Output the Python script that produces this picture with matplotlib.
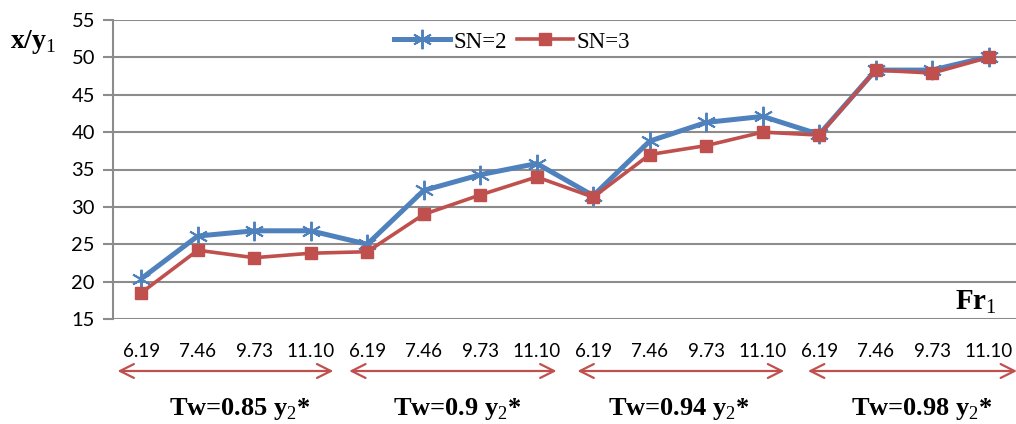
import numpy as np
import matplotlib
matplotlib.use('Agg')
import matplotlib.pyplot as plt
import matplotlib.transforms as mtransforms

# data
fr_labels = ['6.19', '7.46', '9.73', '11.10'] * 4
sn2 = [20.4, 26.1, 26.8, 26.8, 25.0, 32.2, 34.3, 35.8,
       31.5, 38.8, 41.3, 42.1, 39.7, 48.3, 48.3, 50.1]
sn3 = [18.5, 24.2, 23.2, 23.8, 24.0, 29.0, 31.6, 34.0,
       31.3, 37.0, 38.2, 40.0, 39.6, 48.3, 47.9, 50.0]
tw_labels = ['0.85', '0.9', '0.94', '0.98']
yticks = [15, 20, 25, 30, 35, 40, 45, 50, 55]

plt.rcParams['mathtext.fontset'] = 'custom'
plt.rcParams['mathtext.rm'] = 'Liberation Serif'
plt.rcParams['mathtext.bf'] = 'Liberation Serif:bold'

blue = '#4F81BD'
red = '#C0504D'
grid_c = '#8C8C8C'

fig = plt.figure(figsize=(10.16, 4.24), dpi=100)
ax = fig.add_axes([113 / 1016, 1 - 319 / 424, 904 / 1016, 299 / 424])

x = np.arange(len(sn2))
ax.plot(x, sn2, color=blue, lw=3.6, marker=(6, 2, 0), ms=14, mew=1.4,
        mec=blue, label='SN=2', zorder=3, clip_on=False)
ax.plot(x, sn3, color=red, lw=2.6, marker='s', ms=8.5, mec=red, mfc=red,
        label='SN=3', zorder=4, clip_on=False)

ax.set_xlim(-0.5, len(sn2) - 0.5)
ax.set_ylim(15, 55)
ax.set_yticks(yticks)
ax.yaxis.grid(True, color=grid_c, lw=1.5)
ax.set_axisbelow(True)
for s in ['top', 'right', 'bottom']:
    ax.spines[s].set_visible(False)
ax.spines['left'].set_color(grid_c)
ax.spines['left'].set_linewidth(1.5)
ax.tick_params(axis='y', length=7, width=1.5, color=grid_c, pad=6,
               labelsize=14.5)
for t in ax.get_yticklabels():
    t.set_family('Lato')
ax.set_xticks(x)
ax.set_xticklabels(fr_labels, fontsize=13.5, family='Lato')
ax.tick_params(axis='x', length=0, pad=17)

leg = ax.legend(loc='center', ncol=2, frameon=False,
                prop={'family': 'Liberation Serif', 'size': 16.5},
                handlelength=2.45, handletextpad=0.15, columnspacing=0.4,
                borderpad=0)
leg.set_bbox_to_anchor((512 / 1016, 1 - 42 / 424), transform=fig.transFigure)

# group arrows and labels under the axis
trans = mtransforms.blended_transform_factory(ax.transData, fig.transFigure)
spans = [(-0.42, 3.4), (3.68, 7.35), (7.72, 11.38), (11.8, 15.5)]
label_x = [240, 457, 679, 922]
for (a, b), tw, lx in zip(spans, tw_labels, label_x):
    ax.annotate('', xy=(a, 1 - 371 / 424), xytext=(b, 1 - 371 / 424),
                xycoords=trans, textcoords=trans,
                arrowprops=dict(arrowstyle='<->,head_length=1.0,head_width=0.5',
                                color=red, lw=1.6, shrinkA=0, shrinkB=0),
                annotation_clip=False)
    fig.text(lx / 1016, 1 - 409 / 424,
             'Tw=' + tw + r' y$_{\mathrm{2}}$*',
             ha='center', va='center', fontsize=19, fontweight='bold',
             family='Liberation Serif')

fig.text(10 / 1016, 1 - 42 / 424, r'x/y$_{\mathrm{1}}$', ha='left', va='center',
         fontsize=20, fontweight='bold', family='Liberation Serif')
fig.text(955 / 1016, 1 - 302 / 424, r'Fr$_{\mathrm{1}}$', ha='left', va='center',
         fontsize=21, fontweight='bold', family='Liberation Serif')

fig.savefig('out.png', dpi=100)
